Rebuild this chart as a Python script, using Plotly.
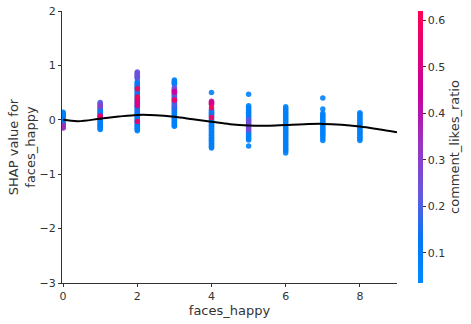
import plotly.graph_objects as go

# ---- data ----
shap_x0 = [0.14, 0.12, 0.10, 0.08, 0.06, 0.04, 0.02, 0.00, -0.02, -0.04, -0.06, -0.08, -0.10, -0.12, -0.14, -0.15]
ratio_x0 = [0.08, 0.07, 0.09, 0.06, 0.08, 0.07, 0.10, 0.08, 0.07, 0.09, 0.08, 0.12, 0.30, 0.35, 0.33, 0.28]

shap_x1 = [0.32, 0.30, 0.28, 0.26, 0.24, 0.22, 0.20, 0.18, 0.16, 0.14, 0.12, 0.10, 0.08, 0.07, 0.06, 0.04,
           0.02, 0.00, -0.02, -0.04, -0.06, -0.08, -0.10, -0.12, -0.14, -0.16, -0.18]
ratio_x1 = [0.20, 0.22, 0.18, 0.30, 0.25, 0.12, 0.08, 0.10, 0.07, 0.09, 0.08, 0.15, 0.08, 0.55, 0.50, 0.30,
            0.08, 0.07, 0.09, 0.08, 0.07, 0.10, 0.08, 0.07, 0.09, 0.08, 0.07]

shap_x2 = [0.88, 0.86, 0.84, 0.82, 0.80, 0.78, 0.76, 0.70, 0.68, 0.66, 0.64, 0.62, 0.60, 0.58, 0.57, 0.55,
           0.53, 0.50, 0.48, 0.46, 0.44, 0.42, 0.40, 0.38, 0.36, 0.34, 0.32, 0.30, 0.28, 0.26, 0.25, 0.24,
           0.22, 0.20, 0.18, 0.16, 0.14, 0.12, 0.10, 0.08, 0.06, 0.04, 0.02, 0.00, -0.02, -0.03, -0.04, -0.06,
           -0.08, -0.10, -0.12, -0.14, -0.16, -0.18, -0.20]
ratio_x2 = [0.22, 0.25, 0.20, 0.22, 0.24, 0.20, 0.18, 0.08, 0.07, 0.10, 0.08, 0.15, 0.08, 0.09, 0.60, 0.12,
            0.08, 0.07, 0.15, 0.08, 0.09, 0.60, 0.10, 0.55, 0.08, 0.12, 0.50, 0.45, 0.08, 0.50, 0.10, 0.08,
            0.07, 0.09, 0.08, 0.15, 0.07, 0.08, 0.10, 0.07, 0.08, 0.09, 0.07, 0.08, 0.10, 0.58, 0.07, 0.08,
            0.09, 0.07, 0.08, 0.06, 0.08, 0.07, 0.08]

shap_x3 = [0.73, 0.71, 0.69, 0.67, 0.65, 0.59, 0.57, 0.55, 0.53, 0.52, 0.50, 0.48, 0.46, 0.44, 0.42, 0.40,
           0.38, 0.37, 0.35, 0.33, 0.31, 0.29, 0.27, 0.25, 0.23, 0.21, 0.19, 0.17, 0.15, 0.13, 0.11, 0.09,
           0.07, 0.05, 0.03, 0.01, -0.01, -0.03, -0.05, -0.07, -0.09, -0.11, -0.12]
ratio_x3 = [0.08, 0.07, 0.09, 0.08, 0.07, 0.22, 0.26, 0.20, 0.30, 0.45, 0.40, 0.24, 0.20, 0.12, 0.18, 0.10,
            0.08, 0.58, 0.35, 0.12, 0.08, 0.20, 0.09, 0.18, 0.08, 0.07, 0.15, 0.08, 0.09, 0.07, 0.08, 0.10,
            0.07, 0.08, 0.09, 0.07, 0.08, 0.07, 0.09, 0.08, 0.07, 0.08, 0.07]

shap_x4 = [0.50, 0.34, 0.32, 0.30, 0.28, 0.22, 0.18, 0.16, 0.14, 0.12, 0.10, 0.08, 0.06, 0.04, 0.02, 0.00,
           -0.02, -0.04, -0.06, -0.08, -0.10, -0.12, -0.14, -0.16, -0.18, -0.20, -0.22, -0.24, -0.26, -0.28,
           -0.30, -0.32, -0.34, -0.36, -0.38, -0.40, -0.42, -0.44, -0.46, -0.48, -0.50, -0.52]
ratio_x4 = [0.08, 0.40, 0.45, 0.50, 0.42, 0.60, 0.08, 0.07, 0.09, 0.08, 0.15, 0.07, 0.08, 0.60, 0.08, 0.07,
            0.09, 0.08, 0.07, 0.08, 0.10, 0.07, 0.08, 0.09, 0.07, 0.08, 0.07, 0.09, 0.08, 0.07, 0.08,
            0.07, 0.09, 0.08, 0.07, 0.08, 0.07, 0.09, 0.08, 0.07, 0.08, 0.07]

shap_x5 = [0.47, 0.26, 0.23, 0.20, 0.17, 0.14, 0.11, 0.08, 0.05, 0.02, 0.00, -0.02, -0.05, -0.08, -0.11,
           -0.14, -0.17, -0.20, -0.23, -0.26, -0.29, -0.32, -0.35, -0.37, -0.48]
ratio_x5 = [0.08, 0.08, 0.07, 0.09, 0.08, 0.07, 0.10, 0.08, 0.07, 0.09, 0.22, 0.08, 0.26, 0.12, 0.25,
            0.18, 0.28, 0.20, 0.08, 0.07, 0.09, 0.08, 0.07, 0.08, 0.08]

shap_x6 = [0.24, 0.21, 0.18, 0.15, 0.12, 0.09, 0.06, 0.03, 0.00, -0.03, -0.06, -0.09, -0.12, -0.15, -0.18,
           -0.21, -0.24, -0.27, -0.30, -0.33, -0.36, -0.39, -0.42, -0.45, -0.48, -0.51, -0.54, -0.57, -0.61]
ratio_x6 = [0.08, 0.07, 0.09, 0.08, 0.07, 0.08, 0.09, 0.07, 0.08, 0.07, 0.09, 0.08, 0.07, 0.08, 0.09,
            0.07, 0.08, 0.07, 0.09, 0.08, 0.07, 0.08, 0.09, 0.07, 0.08, 0.07, 0.09, 0.08, 0.07]

shap_x7 = [0.40, 0.20, 0.12, 0.09, 0.06, 0.03, 0.00, -0.03, -0.06, -0.09, -0.12, -0.15, -0.18, -0.21,
           -0.24, -0.27, -0.30, -0.34, -0.38]
ratio_x7 = [0.08, 0.07, 0.08, 0.09, 0.07, 0.08, 0.07, 0.09, 0.08, 0.07, 0.08, 0.09, 0.07, 0.08,
            0.07, 0.09, 0.08, 0.07, 0.08]

shap_x8 = [0.13, 0.10, 0.07, 0.04, 0.01, -0.02, -0.05, -0.08, -0.11, -0.14, -0.17, -0.20, -0.23, -0.26,
           -0.29, -0.32, -0.35, -0.38]
ratio_x8 = [0.08, 0.07, 0.09, 0.08, 0.07, 0.08, 0.09, 0.07, 0.08, 0.07, 0.09, 0.08, 0.07, 0.08,
            0.09, 0.07, 0.08, 0.07]

faces_levels = [0, 1, 2, 3, 4, 5, 6, 7, 8]
shap_groups = [shap_x0, shap_x1, shap_x2, shap_x3, shap_x4, shap_x5, shap_x6, shap_x7, shap_x8]
ratio_groups = [ratio_x0, ratio_x1, ratio_x2, ratio_x3, ratio_x4, ratio_x5, ratio_x6, ratio_x7, ratio_x8]

curve_x = [0, 0.4, 1, 1.5, 2, 2.5, 3, 3.5, 4, 4.5, 5, 5.5, 6, 6.5, 7, 7.5, 8, 8.5, 9]
curve_y = [0.0, -0.025, 0.02, 0.06, 0.09, 0.085, 0.055, 0.01, -0.035, -0.08, -0.105, -0.11, -0.095,
           -0.08, -0.075, -0.09, -0.125, -0.175, -0.23]

y_ticks = [-3, -2, -1, 0, 1, 2]
x_ticks = [0, 2, 4, 6, 8]
cbar_ticks = [0.1, 0.2, 0.3, 0.4, 0.5, 0.6]

# ---- assemble points (high ratio drawn last, on top) ----
pts = []
for lvl, ys, cs in zip(faces_levels, shap_groups, ratio_groups):
    for y, c in zip(ys, cs):
        pts.append((c, lvl, y))
pts.sort()
px = [p[1] for p in pts]
py = [p[2] for p in pts]
pc = [p[0] for p in pts]

red_blue = [
    [0.0, "rgb(0,138,255)"],
    [0.15, "rgb(0,120,245)"],
    [0.32, "rgb(100,88,225)"],
    [0.5, "rgb(150,55,195)"],
    [0.7, "rgb(200,0,155)"],
    [1.0, "rgb(255,0,82)"],
]

font_color = "#333333"
fig = go.Figure()
fig.add_trace(go.Scatter(
    x=px, y=py, mode="markers",
    marker=dict(size=5.5, color=pc, colorscale=red_blue, cmin=0.035, cmax=0.62,
                opacity=0.9, line=dict(width=0),
                colorbar=dict(
                    x=1.063, xanchor="left", xpad=0, ypad=0, y=0.5, yanchor="middle",
                    len=1.0, lenmode="fraction",
                    thickness=5, outlinewidth=0, tickvals=cbar_ticks, ticks="outside", ticklen=3,
                    tickcolor=font_color, tickfont=dict(size=11, color=font_color),
                    title=dict(text="comment_likes_ratio", side="right",
                               font=dict(size=13, color=font_color)),
                )),
    showlegend=False, hoverinfo="skip",
))
fig.add_trace(go.Scatter(
    x=curve_x, y=curve_y, mode="lines", line=dict(color="black", width=2, shape="spline", smoothing=1),
    showlegend=False, hoverinfo="skip",
))

fig.update_layout(
    width=471, height=324,
    margin=dict(l=62, r=74, t=11, b=41, autoexpand=False),
    paper_bgcolor="white", plot_bgcolor="white",
    font=dict(family="DejaVu Sans", color=font_color, size=11),
    xaxis=dict(range=[-0.03, 9.0], tickvals=x_ticks, showgrid=False, zeroline=False,
               showline=True, linecolor=font_color, linewidth=1, ticks="outside", ticklen=3,
               tickcolor=font_color, tickfont=dict(size=11),
               title=dict(text="faces_happy", font=dict(size=13), standoff=3)),
    yaxis=dict(range=[-3, 2], tickvals=y_ticks, showgrid=False, zeroline=False,
               showline=True, linecolor=font_color, linewidth=1, ticks="outside", ticklen=3,
               tickcolor=font_color, tickfont=dict(size=11),
               title=dict(text="SHAP value for<br>faces_happy", font=dict(size=13), standoff=1)),
)

fig.write_html("out.html")
